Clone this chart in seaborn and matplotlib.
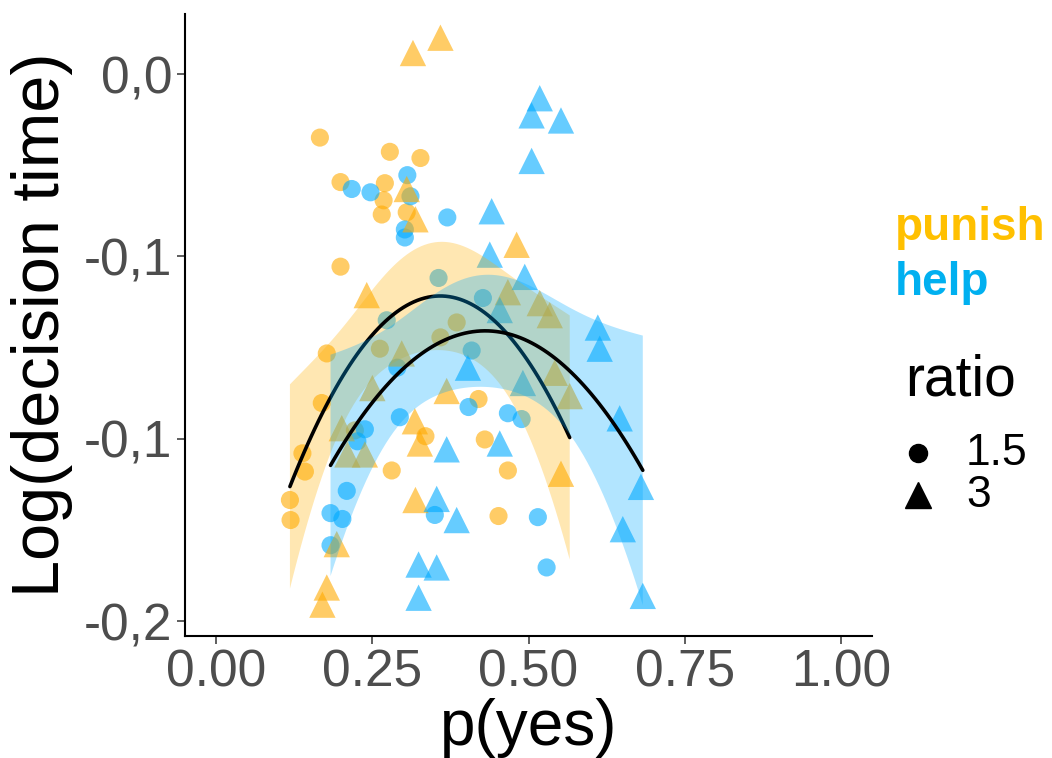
import numpy as np
import pandas as pd
import seaborn as sns
import matplotlib.pyplot as plt
from matplotlib.lines import Line2D

sns.set_theme(style="white")
plt.rcParams['font.family'] = ['Liberation Sans', 'DejaVu Sans']

# ---------------- data ----------------
punish_r15_x = [0.166, 0.278, 0.327, 0.199, 0.270, 0.268, 0.265, 0.305, 0.199, 0.177,
                0.169, 0.138, 0.142, 0.118, 0.119, 0.281, 0.335, 0.420, 0.430, 0.467,
                0.452, 0.385, 0.359, 0.262, 0.222]
punish_r15_y = [-0.0174, -0.0213, -0.0230, -0.0296, -0.0299, -0.0346, -0.0385, -0.0379, -0.0528, -0.0766,
                -0.0902, -0.1040, -0.1090, -0.1168, -0.1223, -0.1087, -0.0993, -0.0891, -0.1002, -0.1087,
                -0.1212, -0.0681, -0.0722, -0.0753, -0.0977]

punish_r3_x = [0.315, 0.359, 0.305, 0.319, 0.241, 0.481, 0.297, 0.250, 0.369, 0.201,
               0.210, 0.238, 0.318, 0.326, 0.319, 0.193, 0.177, 0.170, 0.467, 0.518,
               0.534, 0.566, 0.542, 0.552]
punish_r3_y = [0.0058, 0.0100, -0.0315, -0.0398, -0.0606, -0.0468, -0.0766, -0.0861, -0.0869, -0.0971,
               -0.1043, -0.1043, -0.0952, -0.1013, -0.1168, -0.1289, -0.1408, -0.1455, -0.0598, -0.0628,
               -0.0661, -0.0883, -0.0819, -0.1096]

help_r15_x = [0.217, 0.247, 0.306, 0.311, 0.302, 0.302, 0.370, 0.356, 0.273, 0.427,
              0.409, 0.290, 0.294, 0.404, 0.467, 0.489, 0.238, 0.226, 0.209, 0.183,
              0.202, 0.183, 0.350, 0.515, 0.529]
help_r15_y = [-0.0315, -0.0324, -0.0277, -0.0335, -0.0426, -0.0448, -0.0393, -0.0559, -0.0675, -0.0614,
              -0.0758, -0.0805, -0.0941, -0.0913, -0.0930, -0.0946, -0.0974, -0.1007, -0.1143, -0.1204,
              -0.1220, -0.1292, -0.1209, -0.1215, -0.1353]

help_r3_x = [0.518, 0.505, 0.552, 0.505, 0.441, 0.438, 0.494, 0.454, 0.611, 0.614,
             0.403, 0.491, 0.369, 0.454, 0.353, 0.385, 0.324, 0.353, 0.324, 0.646,
             0.680, 0.651, 0.683]
help_r3_y = [-0.0066, -0.0113, -0.0127, -0.0238, -0.0376, -0.0495, -0.0556, -0.0647, -0.0695, -0.0753,
             -0.0805, -0.0847, -0.1029, -0.1013, -0.1165, -0.1223, -0.1345, -0.1353, -0.1436, -0.0944,
             -0.1132, -0.1248, -0.1431]

conditions = ["punish", "help"]
ratios = ["1.5", "3"]
x_ticks = [0.00, 0.25, 0.50, 0.75, 1.00]
x_tick_labels = ["0.00", "0.25", "0.50", "0.75", "1.00"]
y_ticks = [0.0, -0.05, -0.10, -0.15]
y_tick_labels = ["0,0", "-0,1", "-0,1", "-0,2"]

frames = []
for cond, rat, xs, ys in [("punish", "1.5", punish_r15_x, punish_r15_y),
                          ("punish", "3", punish_r3_x, punish_r3_y),
                          ("help", "1.5", help_r15_x, help_r15_y),
                          ("help", "3", help_r3_x, help_r3_y)]:
    frames.append(pd.DataFrame({"p_yes": xs, "logdt": ys, "condition": cond, "ratio": rat}))
df = pd.concat(frames, ignore_index=True)


def quad_fit_ci(x, y, n=80, level_z=1.959964):
    """Quadratic least-squares fit with a t-based 95% confidence band (like lm smooth)."""
    x = np.asarray(x, float)
    y = np.asarray(y, float)
    X = np.column_stack([np.ones_like(x), x, x ** 2])
    beta, *_ = np.linalg.lstsq(X, y, rcond=None)
    resid = y - X @ beta
    dof = len(x) - 3
    s2 = resid @ resid / dof
    cov = s2 * np.linalg.inv(X.T @ X)
    grid = np.linspace(x.min(), x.max(), n)
    G = np.column_stack([np.ones_like(grid), grid, grid ** 2])
    fit = G @ beta
    se = np.sqrt(np.einsum("ij,jk,ik->i", G, cov, G))
    z = level_z
    t = z + (z ** 3 + z) / (4 * dof) + (5 * z ** 5 + 16 * z ** 3 + 3 * z) / (96 * dof ** 2)
    return grid, fit, fit - t * se, fit + t * se


# ---------------- styling ----------------
point_col = {"punish": "#FFAA00", "help": "#00AAFF"}
band_col = {"punish": "#FFB000", "help": "#00AAFF"}
text_col = {"punish": "#FFC000", "help": "#00B0F0"}
marker_of = {"1.5": "o", "3": "^"}
size_of = {"1.5": 170, "3": 360}

W, H = 1052, 758
fig = plt.figure(figsize=(W / 100, H / 100), dpi=100)
ax = fig.add_axes([185 / W, 1 - 636 / H, (872 - 185) / W, (636 - 14) / H])

for rat in ratios:
    sub = df[df["ratio"] == rat]
    sns.scatterplot(data=sub, x="p_yes", y="logdt", hue="condition", palette=point_col,
                    marker=marker_of[rat], s=size_of[rat], alpha=0.6, linewidth=0,
                    legend=False, ax=ax, zorder=1)

z = 2
for cond in conditions:
    sub = df[df["condition"] == cond]
    grid, fit, lo, hi = quad_fit_ci(sub["p_yes"], sub["logdt"])
    ax.fill_between(grid, lo, hi, facecolor=band_col[cond], alpha=0.3,
                    edgecolor="none", zorder=z)
    fit_df = pd.DataFrame({"p_yes": grid, "logdt": fit})
    n_lines = len(ax.lines)
    sns.lineplot(data=fit_df, x="p_yes", y="logdt", color="black", linewidth=2.6,
                 estimator=None, sort=False, ax=ax)
    ax.lines[n_lines].set_zorder(z + 1)
    z += 2

ax.set_xlim(-0.05, 1.05)
ax.set_ylim(-0.1541, 0.0165)
ax.set_xticks(x_ticks)
ax.set_xticklabels(x_tick_labels)
ax.set_yticks(y_ticks)
ax.set_yticklabels(y_tick_labels)
ax.tick_params(axis="both", which="both", length=6, width=1.1, color="#333333",
               labelsize=37, labelcolor="#4D4D4D", pad=3, left=True, bottom=True)
for side in ["top", "right"]:
    ax.spines[side].set_visible(False)
for side in ["left", "bottom"]:
    ax.spines[side].set_color("black")
    ax.spines[side].set_linewidth(1.5)
ax.set_xlabel("p(yes)", fontsize=46, color="black", labelpad=0)
ax.set_ylabel("Log(decision time)", fontsize=48, color="black", labelpad=8)

# ---------------- legend ----------------
fig.text(895 / W, 1 - 228 / H, "punish", color=text_col["punish"], fontsize=33,
         fontweight="bold", ha="left", va="center")
fig.text(895 / W, 1 - 283 / H, "help", color=text_col["help"], fontsize=33,
         fontweight="bold", ha="left", va="center")
fig.text(905 / W, 1 - 380 / H, "ratio", color="black", fontsize=41, ha="left", va="center")
for rat, yy, ms in [("1.5", 453, 13), ("3", 495, 19)]:
    fig.add_artist(Line2D([918 / W], [1 - yy / H], marker=marker_of[rat], color="black",
                          markersize=ms, linestyle="none", transform=fig.transFigure))
    fig.text(966 / W, 1 - yy / H, rat, color="black", fontsize=32, ha="left", va="center")

fig.savefig("out.png", dpi=100)
